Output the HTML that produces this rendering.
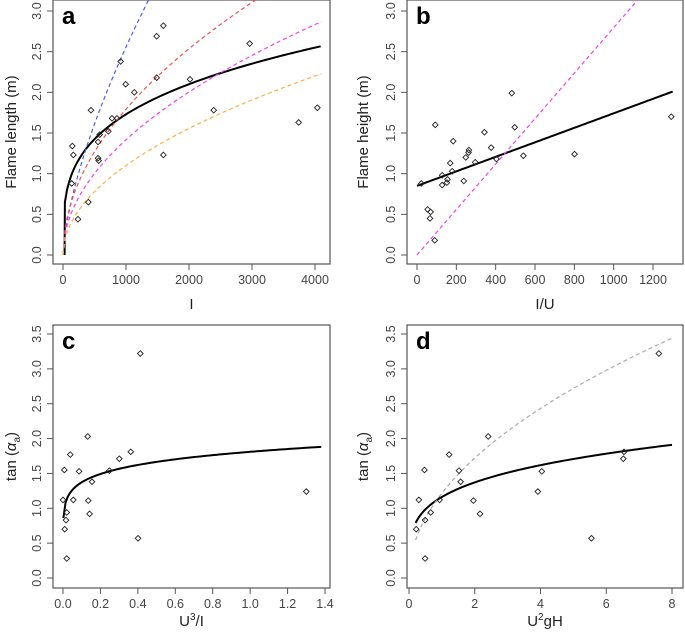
<!DOCTYPE html>
<html><head><meta charset="utf-8"><style>
body{margin:0;background:#fff;width:685px;height:633px;overflow:hidden}
svg{display:block;font-family:"Liberation Sans",Arial,sans-serif}
</style></head><body>
<svg id="fig" width="685" height="633" viewBox="0 0 685 633" xmlns="http://www.w3.org/2000/svg"></svg>
<script>
// ---- Panel a data ----
const aX = [138,148,164,238,402,444,556,566,556,582,720,778,857,915,995,1132,1487,1487,1593,1593,2016,2392,2963,3741,4037];
const aY = [0.88,1.34,1.23,0.44,0.65,1.78,1.19,1.16,1.39,1.48,1.52,1.68,1.68,2.38,2.10,2.00,2.69,2.18,2.82,1.23,2.16,1.78,2.60,1.63,1.81];
const aFitCoef = [0.25, 0.28];
const aModelA = [0.0255, 0.0567, 0.0448, 0.0348];
const aModelB = [0.667, 0.5, 0.5, 0.5];
const aModelColors = ['#4a5cf0','#f05050','#f040f0','#ffb040'];
const aXTicks = [0,1000,2000,3000,4000];
const abYTicks = [0.0,0.5,1.0,1.5,2.0,2.5,3.0];
// ---- Panel b data ----
const bX = [22,54,69,66,90,93,128,128,152,155,169,179,184,238,248,262,264,296,343,377,404,482,497,541,801,1293];
const bY = [0.88,0.56,0.53,0.45,0.18,1.60,0.98,0.86,0.89,0.93,1.13,1.03,1.40,0.91,1.20,1.26,1.29,1.14,1.51,1.32,1.18,1.99,1.57,1.22,1.24,1.70];
const bLine = [0.85, 0.000892];
const bModel = [0, 0.002795];
const bXTicks = [0,200,400,600,800,1000,1200];
// ---- Panel c data ----
const cX = [0.0,0.007,0.009,0.016,0.02,0.02,0.039,0.055,0.086,0.132,0.135,0.142,0.155,0.248,0.301,0.362,0.401,0.413,1.30];
const cY = [1.12,1.55,0.70,0.83,0.94,0.28,1.77,1.12,1.53,2.03,1.11,0.92,1.38,1.54,1.71,1.81,0.57,3.22,1.24];
const cFit = [1.81, 0.12];
const cXTicks = [0.0,0.2,0.4,0.6,0.8,1.0,1.2,1.4];
const cdYTicks = [0.0,0.5,1.0,1.5,2.0,2.5,3.0,3.5];
// ---- Panel d data ----
const dX = [0.22,0.30,0.47,0.49,0.49,0.66,0.93,1.22,1.52,1.57,1.96,2.16,2.41,3.92,4.04,5.55,6.52,6.54,7.60];
const dY = [0.70,1.12,1.55,0.83,0.28,0.94,1.12,1.77,1.54,1.38,1.11,0.92,2.03,1.24,1.53,0.57,1.71,1.81,3.22];
const dFit = [1.162, 0.239];
const dModel = [1.216, 0.5];
const dXTicks = [0,2,4,6,8];

const NS='http://www.w3.org/2000/svg';
const svg=document.getElementById('fig');
function el(tag,attrs,parent){const e=document.createElementNS(NS,tag);for(const k in attrs)e.setAttribute(k,attrs[k]);(parent||svg).appendChild(e);return e;}

function panel(p){
  const g=el('g',{});
  
  
  const sx=v=>p.x0+(v-p.xd0)/(p.xd1-p.xd0)*(p.x1-p.x0);
  const sy=v=>p.y0+(v-p.yd0)/(p.yd1-p.yd0)*(p.y1-p.y0);
  const cid='clip-'+p.letter;
  const cp=el('clipPath',{id:cid},g);el('rect',{x:p.L,y:p.T,width:p.R-p.L,height:p.B-p.T},cp);
  const box=el('rect',{x:p.L,y:p.T,width:p.R-p.L,height:p.B-p.T,fill:'none',stroke:'#555','stroke-width':1.2},g);
  
  
  p.xt.forEach(t=>{const x=sx(t);
    el('line',{x1:x,x2:x,y1:p.B,y2:p.B+6,stroke:'#555'},g);
    const tx=el('text',{x:x,y:p.B+20,'text-anchor':'middle','font-size':12.5,fill:'#444'},g);
    tx.textContent=p.xfmt(t);
    
    
  });
  p.yt.forEach(t=>{const y=sy(t);
    el('line',{x1:p.L,x2:p.L-6,y1:y,y2:y,stroke:'#555'},g);
    const tx=el('text',{x:0,y:0,'text-anchor':'middle','font-size':12.5,fill:'#444',transform:`translate(${p.L-12},${y}) rotate(-90)`},g);
    tx.textContent=t.toFixed(1);
    
    
  });
  const xt=el('text',{x:(p.L+p.R)/2,y:p.xtY,'text-anchor':'middle','font-size':15,fill:'#222'},g);
  xt.innerHTML=p.xtitle;
  
  
  const yt=el('text',{x:0,y:0,'text-anchor':'middle','font-size':15,fill:'#222',transform:`translate(${p.ytX},${(p.T+p.B)/2}) rotate(-90)`},g);
  yt.innerHTML=p.ytitle;
  
  
  const lt=el('text',{x:p.L+9,y:p.T+24,'font-size':24,'font-weight':'bold',fill:'#000'},g);
  lt.textContent=p.letter;
  
  
  const cg=el('g',{'clip-path':`url(#${cid})`},g);
  p.curves.forEach(c=>{
    const pts=[];const n=120;
    if(c.pre)pts.push(c.pre.map((v,i)=>i?sy(v):sx(v)).join(','));
    for(let i=0;i<=n;i++){const v=c.from+(c.to-c.from)*i/n;pts.push(sx(v)+','+sy(c.f(v)));}
    const pl=el('polyline',{points:pts.join(' '),fill:'none',stroke:c.color,'stroke-width':c.w,'stroke-dasharray':c.dash||'none'},cg);
    
    
  });
  p.xs.forEach((v,i)=>{const x=sx(v),y=sy(p.ys[i]);const r=2.8;
    const d=el('polygon',{points:`${x},${y-r} ${x+r},${y} ${x},${y+r} ${x-r},${y}`,fill:'none',stroke:'#222','stroke-width':0.9},g);
    
    
  });
}
const topCfg={T:0,B:264,y0:255,y1:11,yd0:0,yd1:3,xtY:309};
const botCfg={T:325,B:588,y0:578,y1:334,yd0:0,yd1:3.5,xtY:626};
const fmt0=v=>String(v), fmt1=v=>v.toFixed(1);
const aCurves=[{name:'fitted-curve',color:'#000',w:2,from:30,to:4090,pre:[25,0],f:v=>aFitCoef[0]*Math.pow(v,aFitCoef[1])}];
aModelA.forEach((a,i)=>aCurves.push({name:'model-curve-'+i,color:aModelColors[i],w:1.2,dash:'4,3',from:0,to:4100,f:v=>a*Math.pow(v,aModelB[i])}));
panel(Object.assign({},topCfg,{name:'panel-a',letter:'a',L:53,R:330,x0:63,x1:315,xd0:0,xd1:4000,xt:aXTicks,yt:abYTicks,xfmt:fmt0,xtitle:'I',ytitle:'Flame length (m)',ytX:16,xs:aX,ys:aY,curves:aCurves}));
panel(Object.assign({},topCfg,{name:'panel-b',letter:'b',L:407,R:683,x0:417,x1:653,xd0:0,xd1:1200,xt:bXTicks,yt:abYTicks,xfmt:fmt0,xtitle:'I/U',ytitle:'Flame height (m)',ytX:368,xs:bX,ys:bY,
  curves:[{name:'fitted-line',color:'#000',w:2,from:0,to:1300,f:v=>bLine[0]+bLine[1]*v},{name:'model-line',color:'#f040f0',w:1.2,dash:'4,3',from:0,to:1300,f:v=>bModel[0]+bModel[1]*v}]}));
panel(Object.assign({},botCfg,{name:'panel-c',letter:'c',L:53,R:330,x0:63,x1:325,xd0:0,xd1:1.4,xt:cXTicks,yt:cdYTicks,xfmt:fmt1,xtitle:'U<tspan dy="-6" font-size="10">3</tspan><tspan dy="6">/I</tspan>',ytitle:'tan (<tspan font-style="italic">α</tspan><tspan dy="4" font-size="10">a</tspan><tspan dy="-4">)</tspan>',ytX:16,xs:cX,ys:cY,
  curves:[{name:'fitted-curve',color:'#000',w:2,from:0.002,to:1.38,f:v=>cFit[0]*Math.pow(v,cFit[1])}]}));
panel(Object.assign({},botCfg,{name:'panel-d',letter:'d',L:407,R:683,x0:409,x1:672,xd0:0,xd1:8,xt:dXTicks,yt:cdYTicks,xfmt:fmt0,xtitle:'U<tspan dy="-6" font-size="10">2</tspan><tspan dy="6">gH</tspan>',ytitle:'tan (<tspan font-style="italic">α</tspan><tspan dy="4" font-size="10">a</tspan><tspan dy="-4">)</tspan>',ytX:368,xs:dX,ys:dY,
  curves:[{name:'fitted-curve',color:'#000',w:2,from:0.2,to:8,f:v=>dFit[0]*Math.pow(v,dFit[1])},{name:'model-curve',color:'#aaa',w:1.2,dash:'4,3',from:0.2,to:8,f:v=>dModel[0]*Math.pow(v,dModel[1])}]}));
</script>
</body></html>
